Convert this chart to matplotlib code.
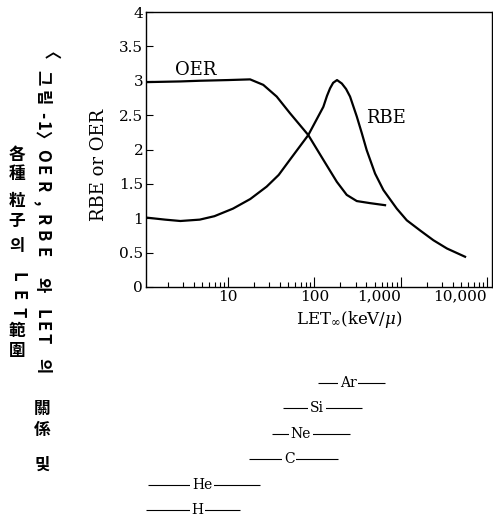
import matplotlib
matplotlib.use("Agg")
import matplotlib.pyplot as plt
from matplotlib.ticker import FixedLocator, FixedFormatter, LogLocator, NullFormatter

plt.rcParams['font.family'] = ['DejaVu Serif']
plt.rcParams['mathtext.fontset'] = 'dejavuserif'

# OER / RBE curves (LET in keV/um)
oer_let = [1.12, 2.8, 4.7, 10, 18, 25.6, 36.6, 52, 85, 127, 182, 237, 310, 441, 659]
oer_val = [2.98, 2.99, 3.0, 3.01, 3.02, 2.94, 2.77, 2.53, 2.21, 1.85, 1.53, 1.34, 1.25, 1.22, 1.19]

rbe_let = [1.12, 1.86, 2.8, 4.7, 6.95, 11.4, 18.1, 28, 38.6, 52, 85, 127, 140, 152, 165, 183, 208,
           233, 259, 310, 354, 404, 505, 631, 901, 1177, 1690, 2395, 3437, 5570]
rbe_val = [1.01, 0.98, 0.96, 0.98, 1.03, 1.14, 1.28, 1.46, 1.63, 1.85, 2.21, 2.62, 2.78, 2.89, 2.97, 3.01, 2.96,
           2.88, 2.77, 2.48, 2.24, 1.99, 1.65, 1.41, 1.14, 0.97, 0.82, 0.68, 0.56, 0.44]

# LET ranges of particles
particles = ["H", "He", "C", "Ne", "Si", "Ar"]
let_lo = [1.12, 1.18, 17.5, 32, 43, 110]
let_hi = [13.8, 23.5, 188, 259, 357, 659]
label_at = [4.4, 5.0, 51, 70, 107, 246]

xticks = [10, 100, 1000, 10000]
xticklabels = ["10", "100", "1,000", "10,000"]
yticks = [0, 0.5, 1, 1.5, 2, 2.5, 3, 3.5, 4]
yticklabels = ["0", "0.5", "1", "1.5", "2", "2.5", "3", "3.5", "4"]

W, H = 493, 522
fig = plt.figure(figsize=(W / 100, H / 100), dpi=100)

ax = fig.add_axes([146 / W, 1 - 287 / H, 346 / W, 275 / H])
ax.set_xscale('log')
ax.set_xlim(1.12, 11430)
ax.set_ylim(0, 4)

ax.plot(oer_let, oer_val, color='black', lw=1.6)
ax.plot(rbe_let, rbe_val, color='black', lw=1.6)
ax.text(4.26, 3.16, "OER", fontsize=13, ha='center', va='center')
ax.text(676, 2.46, "RBE", fontsize=13, ha='center', va='center')

ax.xaxis.set_major_locator(FixedLocator(xticks))
ax.xaxis.set_major_formatter(FixedFormatter(xticklabels))
ax.xaxis.set_minor_locator(LogLocator(base=10, subs=range(2, 10), numticks=20))
ax.xaxis.set_minor_formatter(NullFormatter())
ax.set_yticks(yticks)
ax.set_yticklabels(yticklabels)
ax.tick_params(axis='both', which='both', direction='in', labelsize=11, width=0.8)
ax.tick_params(axis='x', which='major', length=7, pad=2)
ax.tick_params(axis='x', which='minor', length=3.5)
ax.tick_params(axis='y', which='major', length=5, pad=2)
# the comma labels sit to the left of their ticks in the original
for lbl in ax.get_xticklabels():
    if "," in lbl.get_text():
        lbl.set_horizontalalignment('right')
for sp in ax.spines.values():
    sp.set_linewidth(1.0)

ax.set_xlabel(r"LET$_\infty$(keV/$\mu$)", fontsize=12)
ax.xaxis.set_label_coords(0.587, -0.08)
ax.set_ylabel("RBE or OER", fontsize=13)
ax.yaxis.set_label_coords(-0.11, 0.444)

# particle LET ranges below, on the same log scale
ax2 = fig.add_axes([146 / W, 0, 346 / W, 152 / H])
ax2.set_xscale('log')
ax2.set_xlim(1.12, 11430)
ax2.set_ylim(-0.47, 5.51)
ax2.axis('off')
for i, name in enumerate(particles):
    ax2.hlines(i, let_lo[i], let_hi[i], color='black', lw=0.8)
    ax2.text(label_at[i], i, name, fontsize=10, ha='center', va='center',
             bbox=dict(facecolor='white', edgecolor='none', pad=1.2))

# vertical caption on the left
R, U = -90, 0
col1 = [("〈", 59, R), ("그", 78, R), ("림", 98, R), ("-", 115, R), ("1", 126, R), ("〉", 138, R),
        ("O", 155, R), ("E", 170, R), ("R", 187, R), (",", 203, R),
        ("R", 220, R), ("B", 236, R), ("E", 252, R), ("와", 285, R),
        ("L", 314, R), ("E", 326, R), ("T", 338, R), ("의", 366, R),
        ("關", 409, U), ("係", 430, U), ("및", 465, U)]
col2 = [("各", 155, U), ("種", 174, U), ("粒", 201, U), ("子", 221, U), ("의", 246, U),
        ("L", 277, R), ("E", 295, R), ("T", 312, R), ("範", 331, U), ("圍", 351, U)]
cjk = ['Noto Sans CJK KR', 'DejaVu Sans']
for x, col in ((42, col1), (17, col2)):
    for ch, y, rot in col:
        fig.text(x / W, 1 - y / H, ch, family=cjk, weight='bold', fontsize=12,
                 rotation=rot, ha='center', va='center')

fig.savefig("out.png", dpi=100)
